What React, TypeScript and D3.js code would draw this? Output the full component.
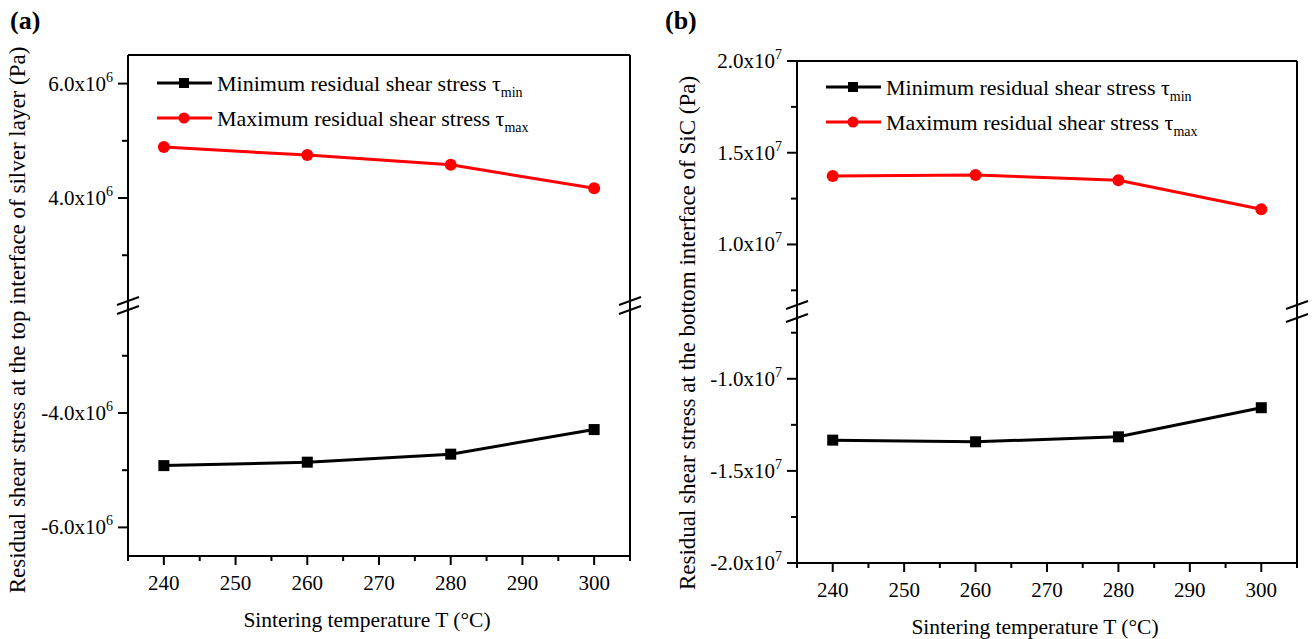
import React from 'react';
import * as d3 from 'd3';

// sintering temperatures (°C)
const temps = [240, 260, 280, 300];
const xTicks = [240, 250, 260, 270, 280, 290, 300];

// (a) top interface of silver layer, Pa
const aMax = [4.89e6, 4.75e6, 4.58e6, 4.17e6];
const aMin = [-4.92e6, -4.86e6, -4.72e6, -4.29e6];
// (b) bottom interface of SiC, Pa
const bMax = [1.373e7, 1.379e7, 1.35e7, 1.192e7];
const bMin = [-1.333e7, -1.342e7, -1.315e7, -1.157e7];

const aTicks = [6, 4, -4, -6];
const aMinor = [5, 3, -3, -5];
const bTicks = [2.0, 1.5, 1.0, -1.0, -1.5, -2.0];
const bMinor = [1.75, 1.25, 0.75, -0.75, -1.25, -1.75];

const FONT = "'Liberation Serif', 'Times New Roman', serif";

type PanelProps = {
  label: string;
  title: string;
  left: number; right: number; top: number; bottom: number;
  upper: [number, number]; lower: [number, number]; // data domains
  breakTop: number; breakBottom: number; // pixel ends of upper/lower segments
  exp: number;
  ticks: number[]; minor: number[];
  maxVals: number[]; minVals: number[];
  legendX: number; legendY: number;
  titleX: number; titleY: number;
  labelX: number;
};

const Panel = (p: PanelProps) => {
  const unit = Math.pow(10, p.exp);
  const x = d3.scaleLinear().domain([235, 305]).range([p.left, p.right]);
  const yUp = d3.scaleLinear().domain(p.upper).range([p.breakTop, p.top]);
  const yLo = d3.scaleLinear().domain(p.lower).range([p.bottom, p.breakBottom]);
  const y = (v: number) => (v >= 0 ? yUp(v) : yLo(v));

  const line = d3.line<number>().x((_, i) => x(temps[i])).y(v => y(v));

  const slash = (cx: number, cy: number, k: string) => (
    <line key={k} x1={cx - 11} y1={cy + 4} x2={cx + 11} y2={cy - 4} stroke="#000" strokeWidth={2} />
  );

  return (
    <g fontFamily={FONT}>
      <text x={p.labelX} y={29} fontSize={26} fontWeight="bold">{p.label}</text>

      {/* frame */}
      <line x1={p.left} x2={p.right} y1={p.top} y2={p.top} stroke="#000" strokeWidth={2} />
      <line x1={p.left} x2={p.right} y1={p.bottom} y2={p.bottom} stroke="#000" strokeWidth={2} />
      <line x1={p.left} x2={p.left} y1={p.top} y2={p.bottom} stroke="#000" strokeWidth={2} />
      <line x1={p.right} x2={p.right} y1={p.top} y2={p.bottom} stroke="#000" strokeWidth={2} />

      {/* break marks */}
      {slash(p.left, p.breakTop, 'l1')}
      {slash(p.left, p.breakBottom, 'l2')}
      {slash(p.right, p.breakTop, 'r1')}
      {slash(p.right, p.breakBottom, 'r2')}

      {/* x axis ticks */}
      {d3.range(235, 306, 5).map(t => (
        <line key={'xt' + t} x1={x(t)} x2={x(t)} y1={p.bottom} y2={p.bottom + (t % 10 === 0 ? 9 : 5)} stroke="#000" strokeWidth={2} />
      ))}
      {xTicks.map(t => (
        <text key={'xl' + t} x={x(t)} y={p.bottom + 34} fontSize={21} textAnchor="middle">{t}</text>
      ))}
      <text x={(p.left + p.right) / 2 - 12} y={p.bottom + 71} fontSize={21.5} textAnchor="middle">Sintering temperature T (°C)</text>

      {/* y axis ticks */}
      {p.ticks.map(t => (
        <g key={'yt' + t}>
          <line x1={p.left - 10} x2={p.left} y1={y(t * unit)} y2={y(t * unit)} stroke="#000" strokeWidth={2} />
          <text x={p.left - 15} y={y(t * unit) + 7} fontSize={21} textAnchor="end">
            {t.toFixed(1) + 'x10'}
            <tspan dy={-9} fontSize={14}>{p.exp}</tspan>
          </text>
        </g>
      ))}
      {p.minor.map(t => (
        <line key={'ym' + t} x1={p.left - 6} x2={p.left} y1={y(t * unit)} y2={y(t * unit)} stroke="#000" strokeWidth={2} />
      ))}
      <text transform={`translate(${p.titleX},${p.titleY}) rotate(-90)`} fontSize={23} textAnchor="middle">{p.title}</text>

      {/* series */}
      <path d={line(p.maxVals) || ''} fill="none" stroke="#ff0000" strokeWidth={3} />
      {p.maxVals.map((v, i) => <circle key={'c' + i} cx={x(temps[i])} cy={y(v)} r={6} fill="#ff0000" />)}
      <path d={line(p.minVals) || ''} fill="none" stroke="#000" strokeWidth={3} />
      {p.minVals.map((v, i) => <rect key={'s' + i} x={x(temps[i]) - 5.5} y={y(v) - 5.5} width={11} height={11} fill="#000" />)}

      {/* legend */}
      <line x1={p.legendX} x2={p.legendX + 55} y1={p.legendY} y2={p.legendY} stroke="#000" strokeWidth={3} />
      <rect x={p.legendX + 22} y={p.legendY - 5} width={10} height={10} fill="#000" />
      <text x={p.legendX + 60} y={p.legendY + 8} fontSize={22}>
        Minimum residual shear stress τ<tspan dy={6} fontSize={14}>min</tspan>
      </text>
      <line x1={p.legendX} x2={p.legendX + 55} y1={p.legendY + 35} y2={p.legendY + 35} stroke="#ff0000" strokeWidth={3} />
      <circle cx={p.legendX + 27} cy={p.legendY + 35} r={5.5} fill="#ff0000" />
      <text x={p.legendX + 60} y={p.legendY + 43} fontSize={22}>
        Maximum residual shear stress τ<tspan dy={6} fontSize={14}>max</tspan>
      </text>
    </g>
  );
};

export default function App() {
  return (
    <svg width={1314} height={639} style={{ position: 'absolute', left: 0, top: 0, background: '#fff' }}>
      <Panel
        label="(a)"
        title="Residual shear stress at the top interface of silver layer (Pa)"
        left={128} right={630} top={55} bottom={556}
        upper={[2.2e6, 6.5e6]} lower={[-6.5e6, -2.2e6]}
        breakTop={301} breakBottom={310}
        exp={6} ticks={aTicks} minor={aMinor}
        maxVals={aMax} minVals={aMin}
        legendX={157} legendY={83}
        titleX={25} titleY={320}
        labelX={10}
      />
      <Panel
        label="(b)"
        title="Residual shear stress at the bottom interface of SiC (Pa)"
        left={797} right={1297} top={61} bottom={563}
        upper={[0.67e7, 2.0e7]} lower={[-2.0e7, -0.67e7]}
        breakTop={305} breakBottom={318}
        exp={7} ticks={bTicks} minor={bMinor}
        maxVals={bMax} minVals={bMin}
        legendX={826} legendY={87}
        titleX={695} titleY={333}
        labelX={665}
      />
    </svg>
  );
}
